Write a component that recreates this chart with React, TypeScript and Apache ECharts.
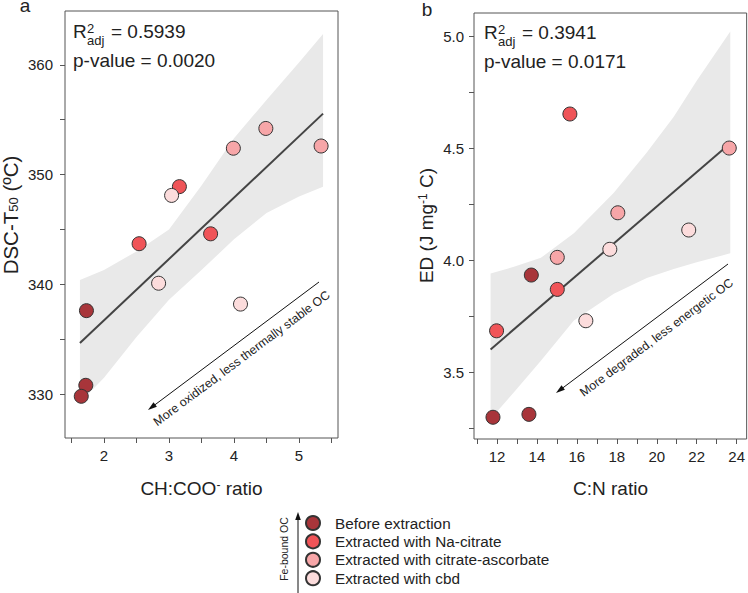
import React, { useEffect, useRef } from "react";
import * as echarts from "echarts";

// ---- legend groups ----
const groupNames = [
  "Before extraction",
  "Extracted with Na-citrate",
  "Extracted with citrate-ascorbate",
  "Extracted with cbd",
];
const groupColors = ["#a8353a", "#f05458", "#f7a6a8", "#fcdcdc"];

// ---- panel a: CH:COO- ratio vs DSC-T50 ----
const aBeforeX = [1.73, 1.72, 1.65];
const aBeforeY = [337.6, 330.8, 329.8];
const aNaCitrateX = [2.54, 3.16, 3.64];
const aNaCitrateY = [343.7, 348.9, 344.6];
const aCitAscX = [3.99, 4.49, 5.34];
const aCitAscY = [352.4, 354.2, 352.6];
const aCbdX = [3.04, 2.84, 4.1];
const aCbdY = [348.1, 340.1, 338.2];
const aFitX = [1.63, 5.37];
const aFitY = [334.65, 355.55];
const aBandX = [1.63, 2.0, 2.5, 3.0, 3.5, 4.0, 4.5, 5.0, 5.37];
const aBandLow = [329.2, 331.5, 335.2, 338.6, 341.3, 344.1, 346.5, 348.0, 348.9];
const aBandHigh = [340.4, 341.3, 343.0, 345.0, 349.0, 353.3, 356.8, 360.2, 362.8];
const aXTicks = [1.5, 2, 2.5, 3, 3.5, 4, 4.5, 5, 5.5];
const aXLabels = [2, 3, 4, 5];
const aYTicks = [330, 335, 340, 345, 350, 355, 360];
const aYLabels = [330, 340, 350, 360];

// ---- panel b: C:N ratio vs ED ----
const bBeforeX = [13.72, 11.8, 13.6];
const bBeforeY = [3.933, 3.298, 3.311];
const bNaCitrateX = [15.65, 15.02, 11.98];
const bNaCitrateY = [4.652, 3.869, 3.684];
const bCitAscX = [23.63, 18.05, 15.02];
const bCitAscY = [4.5, 4.211, 4.012];
const bCbdX = [21.6, 17.65, 16.45];
const bCbdY = [4.134, 4.048, 3.729];
const bFitX = [11.68, 23.68];
const bFitY = [3.601, 4.521];
const bBandX = [11.68, 12.85, 14.2, 15.85, 17.85, 19.5, 20.85, 22.0, 23.68];
const bBandLow = [3.29, 3.41, 3.55, 3.73, 3.85, 3.92, 3.96, 3.99, 4.03];
const bBandHigh = [3.94, 3.97, 4.01, 4.12, 4.3, 4.48, 4.64, 4.8, 5.02];
const bXTicks = [11, 12, 13, 14, 15, 16, 17, 18, 19, 20, 21, 22, 23, 24];
const bXLabels = [12, 14, 16, 18, 20, 22, 24];
const bYTicks = [3.25, 3.5, 3.75, 4.0, 4.25, 4.5, 4.75, 5.0];
const bYLabels = [3.5, 4.0, 4.5, 5.0];

const FONT = "'Liberation Sans', Arial, Helvetica, sans-serif";
const TXT = "#222";
const AXC = "#555";

const pairs = (xs: number[], ys: number[]) => xs.map((x, i) => [x, ys[i]]);

function scatter(name: string, color: string, xs: number[], ys: number[], gi: number) {
  return {
    type: "scatter",
    name,
    xAxisIndex: gi,
    yAxisIndex: gi,
    data: pairs(xs, ys),
    symbol: "circle",
    symbolSize: 14,
    itemStyle: { color, borderColor: "#333", borderWidth: 1, opacity: 1 },
    z: 5,
  };
}

function band(xs: number[], lo: number[], hi: number[], gi: number) {
  return {
    type: "custom",
    xAxisIndex: gi,
    yAxisIndex: gi,
    silent: true,
    z: 1,
    encode: { x: 0, y: [1, 2] },
    data: xs.map((x, i) => [x, lo[i], hi[i]]),
    renderItem: (params: any, api: any) => {
      if (params.dataIndex !== 0) return null;
      const pts: number[][] = [];
      for (let i = 0; i < xs.length; i++) pts.push(api.coord([xs[i], hi[i]]));
      for (let i = xs.length - 1; i >= 0; i--) pts.push(api.coord([xs[i], lo[i]]));
      return { type: "polygon", shape: { points: pts }, style: { fill: "#e9e9e9" } };
    },
  };
}

function fit(xs: number[], ys: number[], gi: number) {
  return {
    type: "line",
    xAxisIndex: gi,
    yAxisIndex: gi,
    data: pairs(xs, ys),
    symbol: "none",
    silent: true,
    lineStyle: { color: "#444", width: 2 },
    z: 3,
  };
}

function xAxis(gi: number, min: number, max: number, ticks: number[], labels: number[]) {
  return {
    type: "value",
    gridIndex: gi,
    min,
    max,
    axisLine: { show: false },
    splitLine: { show: false },
    axisTick: { show: true, length: 5, lineStyle: { color: AXC }, customValues: ticks },
    axisLabel: { customValues: labels, fontSize: 15, color: TXT, margin: 10, fontFamily: FONT },
  };
}

function yAxis(gi: number, min: number, max: number, ticks: number[], labels: number[], dec: number, margin: number) {
  return {
    type: "value",
    gridIndex: gi,
    min,
    max,
    axisLine: { show: false },
    splitLine: { show: false },
    axisTick: { show: true, length: 5, lineStyle: { color: AXC }, customValues: ticks },
    axisLabel: {
      customValues: labels,
      fontSize: 15,
      color: TXT,
      margin,
      fontFamily: FONT,
      formatter: (v: number) => v.toFixed(dec),
    },
  };
}

function txt(text: string, x: number, y: number, fontSize: number, align = "left", rotation = 0, extra: any = {}) {
  return {
    type: "text",
    x,
    y,
    rotation,
    silent: true,
    style: {
      text,
      x: 0,
      y: 0,
      fontSize,
      fontFamily: FONT,
      fill: TXT,
      align,
      verticalAlign: "middle",
      ...extra,
    },
  };
}

function arrow(x1: number, y1: number, x2: number, y2: number, headLen = 9, headHalf = 2.8) {
  const dx = x2 - x1;
  const dy = y2 - y1;
  const L = Math.sqrt(dx * dx + dy * dy);
  const ux = dx / L;
  const uy = dy / L;
  const bx = x2 - ux * headLen;
  const by = y2 - uy * headLen;
  return [
    {
      type: "line",
      silent: true,
      shape: { x1, y1, x2: bx + ux * 2, y2: by + uy * 2 },
      style: { stroke: "#111", lineWidth: 1 },
    },
    {
      type: "polygon",
      silent: true,
      shape: {
        points: [
          [x2, y2],
          [bx - uy * headHalf, by + ux * headHalf],
          [bx + uy * headHalf, by - ux * headHalf],
        ],
      },
      style: { fill: "#111" },
    },
  ];
}

function richText(text: string, x: number, y: number, rotation = 0, fs = 19) {
  return {
    type: "text",
    x,
    y,
    rotation,
    silent: true,
    style: {
      text,
      x: 0,
      y: 0,
      fontSize: fs,
      fontFamily: FONT,
      fill: TXT,
      align: "center",
      verticalAlign: "middle",
      rich: {
        m: { fontSize: fs, fontFamily: FONT, fill: TXT, lineHeight: 19 },
        sup: { fontSize: 12, fontFamily: FONT, fill: TXT, lineHeight: 8, verticalAlign: "top" },
        sub: { fontSize: 13, fontFamily: FONT, fill: TXT, lineHeight: 8, verticalAlign: "bottom" },
      },
    },
  };
}

export default function App() {
  const ref = useRef<HTMLDivElement>(null);
  useEffect(() => {
    if (!ref.current) return;
    const chart = echarts.init(ref.current, undefined, { renderer: "svg" });
    const angA = Math.atan2(410 - 282, 319 - 148);
    const angB = Math.atan2(393 - 264, 728 - 556);
    const stacked = { lineHeight: 12 };
    const option: any = {
      animation: false,
      backgroundColor: "#fff",
      textStyle: { fontFamily: FONT },
      grid: [
        { left: 65, top: 11, width: 273, height: 427, show: true, borderColor: AXC, borderWidth: 1, backgroundColor: "transparent" },
        { left: 474, top: 13, width: 273, height: 426, show: true, borderColor: AXC, borderWidth: 1, backgroundColor: "transparent" },
      ],
      xAxis: [xAxis(0, 1.4, 5.6, aXTicks, aXLabels), xAxis(1, 10.85, 24.5, bXTicks, bXLabels)],
      yAxis: [
        yAxis(0, 326, 364.9, aYTicks, aYLabels, 0, 12),
        yAxis(1, 3.201, 5.103, bYTicks, bYLabels, 1, 10),
      ],
      legend: {
        data: groupNames,
        orient: "vertical",
        left: 305,
        top: 515,
        width: 320,
        height: 120,
        padding: 0,
        itemWidth: 14,
        itemHeight: 14,
        itemGap: 2.4,
        icon: "circle",
        selectedMode: false,
        textStyle: { fontSize: 15.3, color: TXT, fontFamily: FONT, padding: [0, 0, 0, 10], lineHeight: 14 },
      },
      series: [
        band(aBandX, aBandLow, aBandHigh, 0),
        band(bBandX, bBandLow, bBandHigh, 1),
        fit(aFitX, aFitY, 0),
        fit(bFitX, bFitY, 1),
        scatter(groupNames[0], groupColors[0], aBeforeX, aBeforeY, 0),
        scatter(groupNames[1], groupColors[1], aNaCitrateX, aNaCitrateY, 0),
        scatter(groupNames[2], groupColors[2], aCitAscX, aCitAscY, 0),
        scatter(groupNames[3], groupColors[3], aCbdX, aCbdY, 0),
        scatter(groupNames[0], groupColors[0], bBeforeX, bBeforeY, 1),
        scatter(groupNames[1], groupColors[1], bNaCitrateX, bNaCitrateY, 1),
        scatter(groupNames[2], groupColors[2], bCitAscX, bCitAscY, 1),
        scatter(groupNames[3], groupColors[3], bCbdX, bCbdY, 1),
      ],
      graphic: [
        // panel letters
        txt("a", 25, 5, 19, "center", 0, { lineHeight: 9 }),
        txt("b", 427, 9, 19, "center", 0, { lineHeight: 15 }),
        // panel a stats
        txt("R", 73, 31.4, 19, "left", 0, { lineHeight: 15 }),
        txt("2\nadj", 87, 34, 13, "left", 0, stacked),
        txt("= 0.5939", 111, 31.4, 19),
        txt("p-value = 0.0020", 73, 60.4, 19),
        // panel b stats
        txt("R", 484, 32.4, 19, "left", 0, { lineHeight: 15 }),
        txt("2\nadj", 498, 35, 13, "left", 0, stacked),
        txt("= 0.3941", 522, 32.4, 19),
        txt("p-value = 0.0171", 484, 61.2, 19),
        // axis names
        richText("{m|CH:COO}{sup|-}{m| ratio}", 201.5, 488.4),
        richText("{m|C:N ratio}", 610.5, 488.4),
        richText("{m|DSC-T}{sub|50}{m| (ºC)}", 10.5, 215, Math.PI / 2, 20.5),
        richText("{m|ED (J mg}{sup|-1}{m| C)}", 426.5, 225.5, Math.PI / 2),
        // arrows with notes
        ...arrow(319, 282, 148, 410),
        txt("More oxidized, less thermally stable OC", 241.7, 358.3, 12.3, "center", angA),
        ...arrow(728, 264, 556, 393),
        txt("More degraded, less energetic OC", 656.5, 337.5, 12.3, "center", angB),
        // legend side arrow
        ...arrow(298, 593, 298, 512, 8, 2.8),
        txt("Fe-bound OC", 284, 549, 10.5, "center", Math.PI / 2),
      ],
    };
    chart.setOption(option);
    return () => chart.dispose();
  }, []);
  return (
    <div
      ref={ref}
      style={{ position: "absolute", left: 0, top: 0, width: 748, height: 593, background: "#fff" }}
    />
  );
}
